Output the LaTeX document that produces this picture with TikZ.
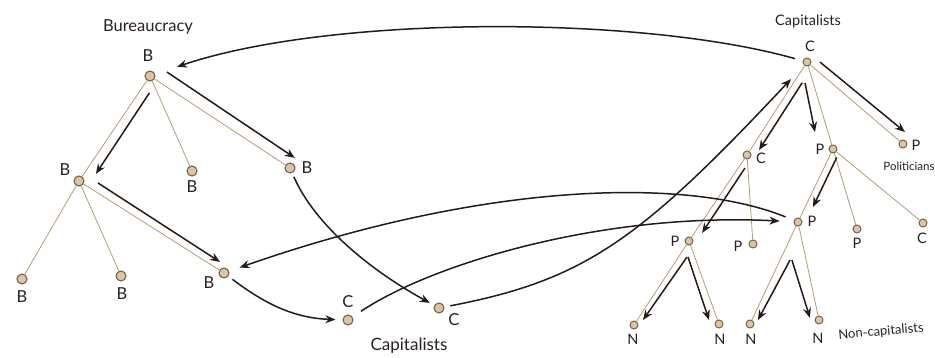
\documentclass[tikz,border=0pt]{standalone}
\usepackage{fontspec}
\setmainfont{Lato}
\usetikzlibrary{arrows.meta,calc}
\definecolor{edgetan}{HTML}{B49C78}
\definecolor{dotfill}{HTML}{D9C6A6}
\definecolor{dotdraw}{HTML}{76624A}
\definecolor{ink}{HTML}{241A17}
\definecolor{txt}{HTML}{2A211E}
\tikzset{
  bigdot/.style={circle, fill=dotfill, draw=dotdraw, line width=1.1pt, minimum size=10pt, inner sep=0pt},
  smalldot/.style={circle, fill=dotfill, draw=dotdraw, line width=1pt, minimum size=8pt, inner sep=0pt},
  treeedge/.style={draw=edgetan, line width=0.8pt},
  flow/.style={draw=ink, line width=1.5pt, -{Stealth[length=10pt,width=8pt]}},
  biglbl/.style={text=txt, inner sep=0pt, font=\fontsize{16.5}{16.5}\selectfont},
  smalllbl/.style={text=txt, inner sep=0pt, font=\fontsize{14.5}{14.5}\selectfont},
}
\newcommand\parr[6]{\draw[flow] ($(#1)!#3!(#2)!#5!90:(#2)$) -- ($(#2)!#4!(#1)!#6!-90:(#1)$);}
\begin{document}
\begin{tikzpicture}[x=1pt,y=-1pt]
\useasboundingbox (0,0) rectangle (935,358);
% left tree nodes
\node[bigdot] (B1) at (150,76) {};
\node[bigdot] (B2) at (79,181) {};
\node[bigdot] (B3) at (192,171) {};
\node[bigdot] (B4) at (290,168) {};
\node[bigdot] (B5) at (22,279) {};
\node[bigdot] (B6) at (121,276) {};
\node[bigdot] (B7) at (224,273) {};
\node[bigdot] (C1) at (348,320) {};
\node[bigdot] (C2) at (439,308) {};
% right tree nodes
\node[smalldot] (Cr) at (807,62) {};
\node[smalldot] (Cc) at (747,155) {};
\node[smalldot] (Pa) at (833,149) {};
\node[smalldot] (Pp) at (903,144) {};
\node[smalldot] (Pb) at (689,241) {};
\node[smalldot] (Pc) at (753,244) {};
\node[smalldot] (Pd) at (798,222) {};
\node[smalldot] (Pe) at (857,229) {};
\node[smalldot] (Cf) at (923,223) {};
\node[smalldot] (N1) at (634,325) {};
\node[smalldot] (N2) at (719,324) {};
\node[smalldot] (N3) at (750,324) {};
\node[smalldot] (N4) at (819,320) {};
% tree edges
\foreach \a/\b in {B1/B2,B1/B3,B1/B4,B2/B5,B2/B6,B2/B7,
  Cr/Cc,Cr/Pa,Cr/Pp,Cc/Pb,Cc/Pc,Pa/Pd,Pa/Pe,Pa/Cf,Pb/N1,Pb/N2,Pd/N3,Pd/N4}
  \draw[treeedge] (\a) -- (\b);
% labels
\node[text=txt, inner sep=0pt, font=\fontsize{16.5}{16.5}\selectfont] (tBur) at (148,27) {Bureaucracy};
\node[biglbl] (lB1) at (148,56) {B};
\node[biglbl] (lB2) at (65,170) {B};
\node[biglbl] (lB3) at (192,187) {B};
\node[biglbl] (lB4) at (307,168) {B};
\node[biglbl] (lB5) at (22,297) {B};
\node[biglbl] (lB6) at (122,294) {B};
\node[biglbl] (lB7) at (209,283) {B};
\node[biglbl] (lC1) at (348,302) {C};
\node[biglbl] (lC2) at (454,320) {C};
\node[text=txt, inner sep=0pt, font=\fontsize{17}{17}\selectfont] (tCapB) at (409,346) {Capitalists};
\node[text=txt, inner sep=0pt, font=\fontsize{14.5}{14.5}\selectfont] (tCapT) at (808,21) {Capitalists};
\node[smalllbl] (lCr) at (810,46) {C};
\node[smalllbl] (lCc) at (761,158) {C};
\node[smalllbl] (lPa) at (820,149) {P};
\node[smalllbl] (lPp) at (916,145) {P};
\node[text=txt, inner sep=0pt, font=\fontsize{11.5}{11.5}\selectfont] (tPol) at (909,166) {Politicians};
\node[smalllbl] (lPb) at (675,241) {P};
\node[smalllbl] (lPc) at (738,246) {P};
\node[smalllbl] (lPd) at (812,221) {P};
\node[smalllbl] (lPe) at (857,243) {P};
\node[smalllbl] (lCf) at (922,238) {C};
\node[smalllbl] (lN1) at (633,339) {N};
\node[smalllbl] (lN2) at (720,339) {N};
\node[smalllbl] (lN3) at (751,339) {N};
\node[smalllbl] (lN4) at (818,338) {N};
\node[text=txt, inner sep=0pt, rotate=5, font=\fontsize{13}{13}\selectfont] (tNon) at (881,332) {Non-capitalists};
% straight parallel arrows
\parr{B1}{B2}{14.5pt}{15.4pt}{9pt}{10pt}
\parr{B1}{B4}{12pt}{1.5pt}{12.6pt}{11.1pt}
\parr{B2}{B7}{17pt}{9.3pt}{8.5pt}{7.2pt}
\parr{Cr}{Cc}{20pt}{10.7pt}{7.2pt}{7.4pt}
\parr{Cr}{Pa}{19.5pt}{21.4pt}{-7.9pt}{-12.4pt}
\parr{Cr}{Pp}{10pt}{6.3pt}{8.4pt}{10.4pt}
\parr{Pa}{Pd}{6pt}{20pt}{7pt}{7pt}
\parr{Cc}{Pb}{12pt}{14pt}{5.6pt}{6.3pt}
\parr{Pb}{N1}{14.5pt}{9.1pt}{7.1pt}{4.8pt}
\parr{Pb}{N2}{14.7pt}{7.2pt}{-6.4pt}{-8pt}
\parr{Pd}{N3}{37.8pt}{7pt}{9pt}{5.5pt}
\parr{Pd}{N4}{36pt}{4pt}{-13.9pt}{-8.4pt}
% curved arrows
\draw[flow, shorten <=8pt, shorten >=23pt] (Cr) .. controls (640,15) and (330,15) .. (B1);
\draw[flow, shorten <=9pt, shorten >=11pt] (Pd) .. controls (690,178) and (490,180) .. (B7);
\draw[flow, shorten <=10pt, shorten >=14pt] (C1) .. controls (430,265) and (600,212) .. (Pd);
\draw[flow, shorten <=6pt, shorten >=19pt] (C2) .. controls (585,280) and (640,240) .. (Cr);
\draw[flow, shorten <=4pt, shorten >=5pt] (B4) .. controls (315,225) and (370,270) .. (C2);
\draw[flow, shorten <=5pt, shorten >=7pt] (B7) .. controls (260,300) and (290,318) .. (C1);
\end{tikzpicture}
\end{document}
